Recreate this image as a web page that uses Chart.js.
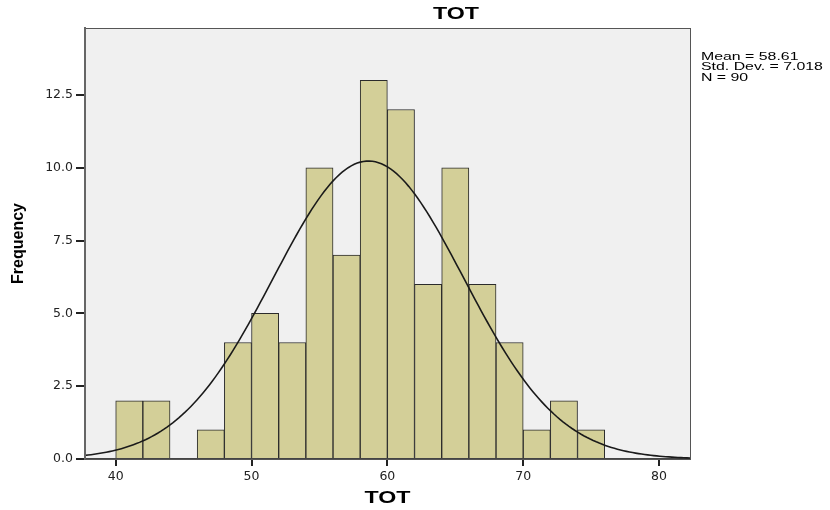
<!DOCTYPE html>
<html>
<head>
<meta charset="utf-8">
<script src="https://cdn.jsdelivr.net/npm/chart.js@4"></script>
<style>
  html, body { margin: 0; padding: 0; background: #fff; }
  #wrap { width: 830px; height: 510px; }
</style>
</head>
<body>
<div id="wrap"><canvas id="chart" width="830" height="510"></canvas></div>
<script>
// histogram of TOT, bins of width 2
const binStarts = [40, 42, 44, 46, 48, 50, 52, 54, 56, 58, 60, 62, 64, 66, 68, 70, 72, 74];
const counts    = [ 2,  2,  0,  1,  4,  5,  4, 10,  7, 13, 12,  6, 10,  6,  4,  1,  2,  1];
const binWidth = 2;
const xTicks = [40, 50, 60, 70, 80];
const yTicks = [0, 2.5, 5, 7.5, 10, 12.5];
const stats = { mean: 58.61, sd: 7.018, n: 90 };
const statLines = ["Mean = 58.61", "Std. Dev. = 7.018", "N = 90"];

const X_MIN = 37.74, X_MAX = 82.28, Y_MAX = 14.8;

// fitted normal curve scaled to counts
const curve = [];
for (let i = 0; i <= 200; i++) {
  const x = X_MIN + (X_MAX - X_MIN) * i / 200;
  const z = (x - stats.mean) / stats.sd;
  const y = stats.n * binWidth / (stats.sd * Math.sqrt(2 * Math.PI)) * Math.exp(-0.5 * z * z);
  curve.push({ x: x, y: y });
}

const bars = binStarts.map((b, i) => ({ x: b + binWidth / 2, y: counts[i] }));

// text drawn with a horizontal stretch (wide SPSS-style lettering)
function wideText(ctx, text, x, y, sx, align) {
  ctx.save();
  ctx.translate(x, y);
  ctx.scale(sx, 1);
  ctx.textAlign = align;
  ctx.fillText(text, 0, 0);
  ctx.restore();
}

const frame = {
  id: 'frame',
  beforeDraw(chart) {
    const { ctx, chartArea: a } = chart;
    ctx.save();
    ctx.fillStyle = '#f0f0f0';
    ctx.fillRect(a.left, a.top, a.right - a.left, a.bottom - a.top);
    ctx.restore();
  },
  afterDraw(chart) {
    const { ctx, chartArea: a } = chart;
    ctx.save();
    ctx.strokeStyle = '#555';
    ctx.lineWidth = 1;
    ctx.strokeRect(a.left + 0.5, a.top + 0.5, a.right - a.left, a.bottom - a.top);
    ctx.lineWidth = 2;
    ctx.strokeStyle = '#666';
    ctx.beginPath();
    ctx.moveTo(a.left, a.top);
    ctx.lineTo(a.left, a.bottom);
    ctx.stroke();

    ctx.fillStyle = '#000';
    ctx.textBaseline = 'middle';
    ctx.font = 'bold 16px "Liberation Sans", Arial, sans-serif';
    // chart title and x axis title
    wideText(ctx, 'TOT', 456, 15, 1.45, 'center');
    wideText(ctx, 'TOT', (a.left + a.right) / 2, 499, 1.45, 'center');

    // summary stats
    ctx.font = '11.5px "Liberation Sans", Arial, sans-serif';
    ctx.textBaseline = 'alphabetic';
    statLines.forEach((t, i) => wideText(ctx, t, a.right + 11, 60 + i * 10.3, 1.38, 'left'));
    ctx.restore();
  }
};

const tickFont = { family: '"DejaVu Sans", sans-serif', size: 12.5 };

const ctx = document.getElementById('chart').getContext('2d');
new Chart(ctx, {
  type: 'bar',
  data: {
    datasets: [
      {
        type: 'line',
        data: curve,
        borderColor: '#1a1a1a',
        borderWidth: 1.6,
        pointRadius: 0,
        tension: 0,
        fill: false,
        order: 0
      },
      {
        data: bars,
        backgroundColor: '#d3cf98',
        borderColor: '#2b2b2b',
        borderWidth: 1,
        barPercentage: 1,
        categoryPercentage: 1,
        order: 1
      }
    ]
  },
  options: {
    responsive: false,
    animation: false,
    layout: { padding: { left: 0, right: 140, top: 28, bottom: 0 } },
    plugins: { legend: { display: false }, tooltip: { enabled: false } },
    scales: {
      x: {
        type: 'linear',
        offset: false,
        min: X_MIN,
        max: X_MAX,
        afterBuildTicks: s => { s.ticks = xTicks.map(v => ({ value: v })); },
        afterFit: s => { s.height = 51; },
        grid: { offset: false, drawOnChartArea: false, tickLength: 7, color: '#222', lineWidth: 2 },
        border: { color: '#444', width: 2 },
        ticks: { color: '#222', padding: 3, maxRotation: 0, font: tickFont }
      },
      y: {
        min: 0,
        max: Y_MAX,
        afterBuildTicks: s => { s.ticks = yTicks.map(v => ({ value: v })); },
        afterFit: s => { s.width = 85; },
        grid: { drawOnChartArea: false, tickLength: 9, color: '#222', lineWidth: 2 },
        border: { color: '#666', width: 2 },
        ticks: { color: '#222', padding: 3, callback: v => v.toFixed(1), font: tickFont },
        title: {
          display: true,
          text: 'Frequency',
          color: '#000',
          padding: { top: 9, bottom: 10 },
          font: { family: '"Liberation Sans", Arial, sans-serif', size: 16, weight: 'bold' }
        }
      }
    }
  },
  plugins: [frame]
});
</script>
</body>
</html>
